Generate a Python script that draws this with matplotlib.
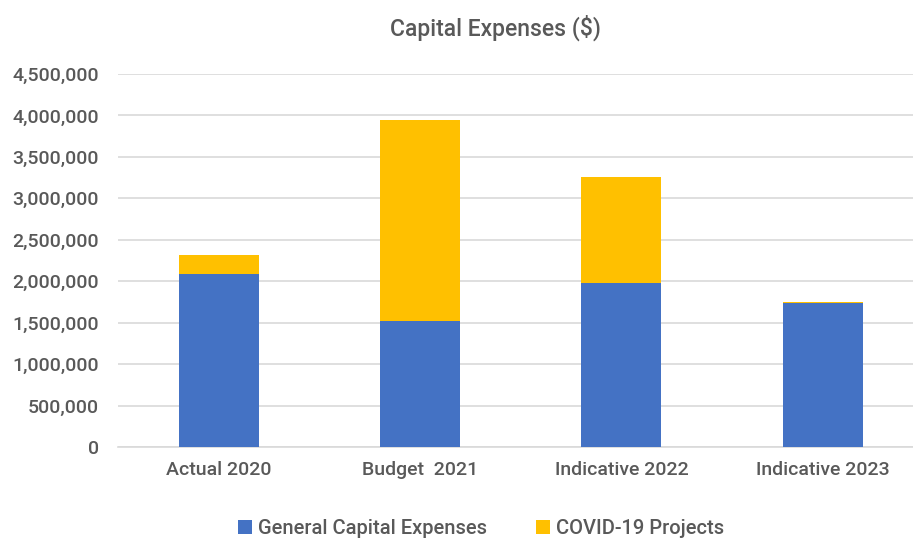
import matplotlib.pyplot as plt
import numpy as np

plt.rcParams['font.family'] = ['Roboto', 'DejaVu Sans']
plt.rcParams['font.weight'] = 'medium'

categories = ['Actual 2020', 'Budget  2021', 'Indicative 2022', 'Indicative 2023']
general = [2090000, 1520000, 1980000, 1734000]
covid = [226000, 2421000, 1277000, 12000]

blue = '#4472C4'
gold = '#FFC000'
grey = '#595959'

fig = plt.figure(figsize=(9.13, 5.42), dpi=100)
ax = fig.add_axes([0.1296, 0.175, 0.8817, 0.6885])

x = np.arange(len(categories))
ax.bar(x, general, width=0.397, color=blue, label='General Capital Expenses', zorder=3)
ax.bar(x, covid, width=0.397, bottom=general, color=gold, label='COVID-19 Projects', zorder=3)

ax.set_ylim(0, 4500000)
ax.set_xlim(-0.5, len(categories) - 0.5)
ax.set_yticks(np.arange(0, 4500001, 500000))
ax.set_yticklabels(['{:,}'.format(v) for v in range(0, 4500001, 500000)])
ax.set_xticks(x)
ax.set_xticklabels(categories)
ax.yaxis.grid(True, color='#d9d9d9', linewidth=1.2, zorder=0)
for s in ['top', 'right', 'left']:
    ax.spines[s].set_visible(False)
ax.spines['bottom'].set_color('#d9d9d9')
ax.spines['bottom'].set_linewidth(1.2)
ax.tick_params(axis='both', length=0, colors=grey, labelsize=14)
ax.tick_params(axis='y', pad=14)
ax.tick_params(axis='x', pad=10)

fig.text(0.543, 0.948, 'Capital Expenses ($)', ha='center', va='center', fontsize=16.5, color=grey)
fig.legend(loc='center', bbox_to_anchor=(0.527, 0.025), ncol=2, frameon=False,
           fontsize=14.5, labelcolor=grey, handlelength=0.7, handleheight=0.7,
           columnspacing=2.4, handletextpad=0.3)

plt.savefig('out.png', dpi=100)
